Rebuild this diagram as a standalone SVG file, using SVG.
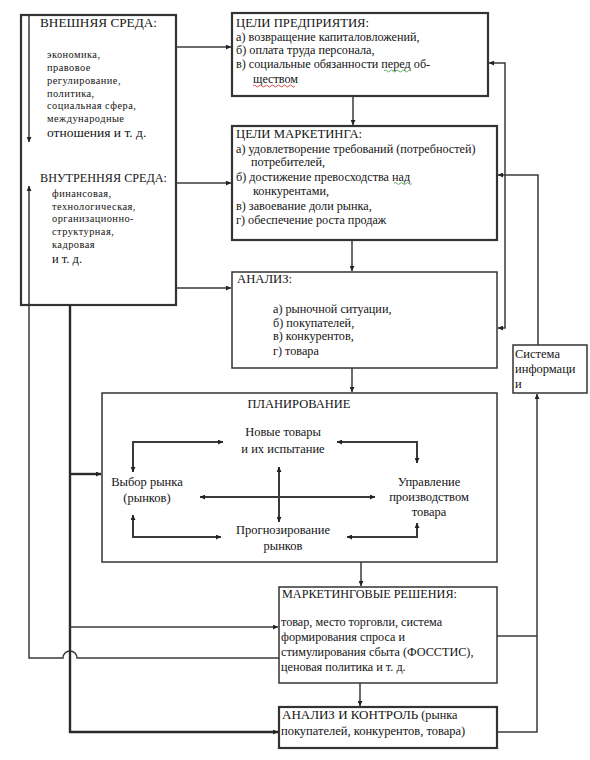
<svg xmlns="http://www.w3.org/2000/svg" width="590" height="760" viewBox="0 0 590 760">
<defs>
<marker id="ah" viewBox="0 0 6 6" refX="6" refY="3" markerWidth="5" markerHeight="5" orient="auto-start-reverse" markerUnits="userSpaceOnUse"><path d="M0,0 L6,3 L0,6 z" fill="#222"/></marker>
<style>
.h{font-size:12.7px}
.b{font-size:12.2px}
.p{font-size:12.5px}
.s{font-size:10.4px;letter-spacing:0.45px}
.box{fill:#fff;stroke:#333;stroke-width:1.5}
.thk{fill:#fff;stroke:#333;stroke-width:2.2}
.c{fill:none;stroke:#3a3a3a;stroke-width:1.5}
.ct{fill:none;stroke:#2a2a2a;stroke-width:2.4}
.m{text-anchor:middle}
.sq{fill:none;stroke-width:0.8}
</style>
</defs>
<rect width="590" height="760" fill="#fff"/>
<g font-family="'Liberation Serif', 'DejaVu Serif', serif" fill="#141414">

<g id="env">
<rect class="thk" x="21" y="15" width="155" height="290"/>
<text class="h" x="40" y="27" textLength="117" lengthAdjust="spacingAndGlyphs">ВНЕШНЯЯ СРЕДА:</text>
<text class="s" x="47" y="58">экономика,</text>
<text class="s" x="47" y="71">правовое</text>
<text class="s" x="47" y="83.5">регулирование,</text>
<text class="s" x="47" y="96.5">политика,</text>
<text class="s" x="47" y="109">социальная сфера,</text>
<text class="s" x="47" y="122">международные</text>
<text x="47" y="137" style="font-size:13.5px">отношения и т. д.</text>
<text class="h" x="40" y="182" textLength="127" lengthAdjust="spacingAndGlyphs">ВНУТРЕННЯЯ СРЕДА:</text>
<text class="s" x="52" y="197">финансовая,</text>
<text class="s" x="52" y="209.5">технологическая,</text>
<text class="s" x="52" y="222">организационно-</text>
<text class="s" x="52" y="235">структурная,</text>
<text class="s" x="52" y="248">кадровая</text>
<text x="52" y="263" style="font-size:12.5px">и т. д.</text>
</g>

<g id="goals">
<rect class="thk" x="232" y="13" width="256" height="83"/>
<text class="h" x="236" y="27">ЦЕЛИ ПРЕДПРИЯТИЯ:</text>
<text class="b" x="236" y="41">а) возвращение капиталовложений,</text>
<text class="b" x="236" y="54">б) оплата труда персонала,</text>
<text class="b" x="236" y="68">в) социальные обязанности перед об-</text>
<text class="b" x="253" y="83">ществом</text>
<path class="sq" stroke="#3a9a3a" d="M384,71 q1.5,-2 3,0 t3,0 t3,0 t3,0 t3,0 t3,0 t3,0 t3,0 t3,0"/>
<path class="sq" stroke="#d02020" d="M253,86 q1.5,-2 3,0 t3,0 t3,0 t3,0 t3,0 t3,0 t3,0 t3,0 t3,0 t3,0 t3,0 t3,0 t3,0 t3,0"/>
</g>

<g id="mgoals">
<rect class="thk" x="232" y="126" width="265" height="114"/>
<text class="h" x="236" y="138">ЦЕЛИ МАРКЕТИНГА:</text>
<text class="b" x="236" y="153">а) удовлетворение требований (потребностей)</text>
<text class="b" x="251" y="166">потребителей,</text>
<text class="b" x="236" y="180.5">б) достижение превосходства над</text>
<text class="b" x="253" y="195">конкурентами,</text>
<text class="b" x="236" y="210">в) завоевание доли рынка,</text>
<text class="b" x="236" y="224">г) обеспечение роста продаж</text>
<path class="sq" stroke="#3a9a3a" d="M394,183.5 q1.5,-2 3,0 t3,0 t3,0 t3,0 t3,0 t3,0"/>
</g>

<g id="analysis">
<rect class="box" x="232" y="272" width="265" height="96"/>
<text class="h" x="237" y="283">АНАЛИЗ:</text>
<text class="b" x="273" y="313">а) рыночной ситуации,</text>
<text class="b" x="273" y="327">б) покупателей,</text>
<text class="b" x="273" y="340">в) конкурентов,</text>
<text class="b" x="273" y="355">г) товара</text>
</g>

<g id="info">
<rect class="box" x="513" y="345" width="74" height="48"/>
<text x="515" y="358" style="font-size:12.5px">Система</text>
<text x="515" y="373" style="font-size:12.5px">информаци</text>
<text x="515" y="388" style="font-size:12.5px">и</text>
</g>

<g id="planning">
<rect class="box" x="102" y="393" width="395" height="169"/>
<text class="p m" x="299" y="408">ПЛАНИРОВАНИЕ</text>
<text class="p m" x="283" y="436">Новые товары</text>
<text class="p m" x="283" y="453">и их испытание</text>
<text class="p m" x="147" y="486">Выбор рынка</text>
<text class="p m" x="147" y="502">(рынков)</text>
<text class="p m" x="429" y="486">Управление</text>
<text class="p m" x="429" y="501">производством</text>
<text class="p m" x="429" y="516">товара</text>
<text class="p m" x="283" y="534">Прогнозирование</text>
<text class="p m" x="283" y="550">рынков</text>
<g>
<path class="c" style="stroke-width:2" d="M133,472 V442 H223" marker-start="url(#ah)" marker-end="url(#ah)"/>
<path class="c" style="stroke-width:2" d="M337,442 H417 V463" marker-start="url(#ah)" marker-end="url(#ah)"/>
<path class="c" style="stroke-width:2" d="M133,515 V537 H221" marker-start="url(#ah)" marker-end="url(#ah)"/>
<path class="c" style="stroke-width:2" d="M347,537 H417 V523" marker-start="url(#ah)" marker-end="url(#ah)"/>
<path class="c" style="stroke-width:2" d="M200,497 H375" marker-start="url(#ah)" marker-end="url(#ah)"/>
<path class="c" style="stroke-width:2" d="M279,467 V522" marker-start="url(#ah)" marker-end="url(#ah)"/>
</g>
</g>

<g id="decisions">
<rect class="box" x="279" y="587" width="218" height="96"/>
<text class="b" x="282" y="598">МАРКЕТИНГОВЫЕ РЕШЕНИЯ:</text>
<text class="b" x="281" y="626">товар, место торговли, система</text>
<text class="b" x="281" y="641">формирования спроса и</text>
<text class="b" x="281" y="656">стимулирования сбыта (ФОССТИС),</text>
<text class="b" x="281" y="671">ценовая политика и т. д.</text>
</g>

<g id="control">
<rect class="thk" x="279" y="707" width="218" height="41"/>
<text x="282" y="719"><tspan style="font-size:13px">АНАЛИЗ И КОНТРОЛЬ</tspan><tspan class="b"> (рынка</tspan></text>
<text class="p" x="281" y="735">покупателей, конкурентов, товара)</text>
</g>
</g>

<g id="connectors">
<path class="c" d="M176,47 H231" marker-end="url(#ah)"/>
<path class="c" d="M176,183 H231" marker-end="url(#ah)"/>
<path class="c" d="M176,288 H231" marker-end="url(#ah)"/>
<path class="c" d="M353,96 V125" marker-end="url(#ah)"/>
<path class="c" d="M352,240 V271" marker-end="url(#ah)"/>
<path class="c" d="M352,368 V392" marker-end="url(#ah)"/>
<path class="c" d="M361,562 V586" marker-end="url(#ah)"/>
<path class="c" d="M360,683 V706" marker-end="url(#ah)"/>
<path class="c" d="M29,15 V142" marker-end="url(#ah)"/>
<path class="c" d="M279,658 H77 A7,7 0 0 0 63,658 H29 V186" marker-end="url(#ah)"/>
<path class="ct" d="M70,305 V732 H278" marker-end="url(#ah)"/>
<path class="ct" d="M70,474 H101" marker-end="url(#ah)"/>
<path class="c" d="M70,627 H278" marker-end="url(#ah)"/>
<path class="c" d="M489,63 H505 V328 H498" marker-start="url(#ah)" marker-end="url(#ah)"/>
<path class="c" d="M538,345 V175 H498" marker-end="url(#ah)"/>
<path class="c" d="M497,636 H537"/>
<path class="c" d="M497,732 H537 V394" marker-end="url(#ah)"/>
</g>
</svg>
